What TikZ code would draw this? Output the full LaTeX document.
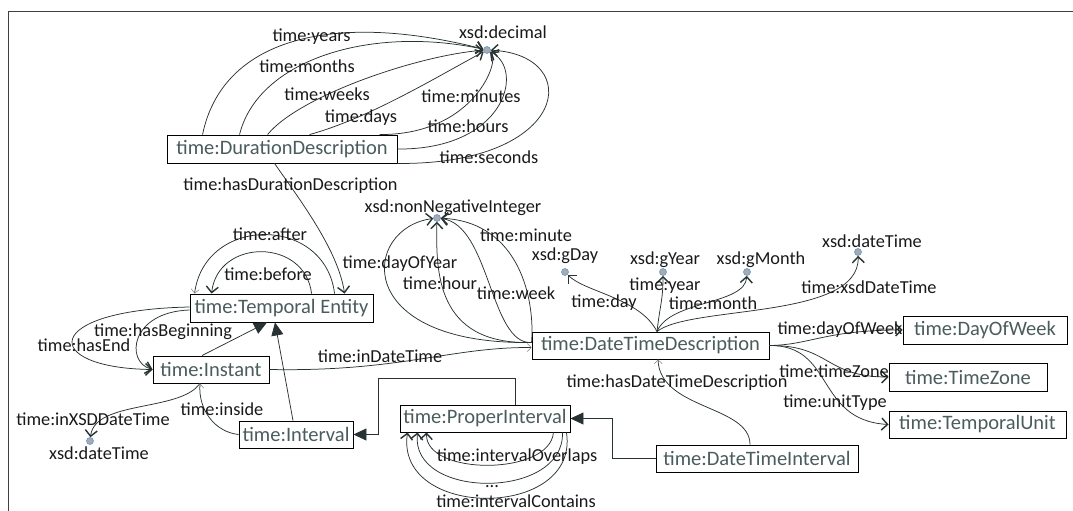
\documentclass[tikz,border=0pt]{standalone}
\usepackage{fontspec}
\setmainfont{Carlito}
\usetikzlibrary{arrows.meta,shadows,calc}
\definecolor{ntext}{RGB}{75,92,92}
\definecolor{edgec}{RGB}{40,50,50}
\definecolor{dotblue}{RGB}{91,155,213}
\definecolor{dotfill}{RGB}{170,170,170}
\begin{document}
\begin{tikzpicture}[x=1pt,y=-1pt,
 cls/.style={draw=black,line width=0.9pt,fill=white,inner sep=0pt,text=ntext,font=\fontsize{20.5}{22}\selectfont,drop shadow={shadow xshift=1.2pt,shadow yshift=-1.2pt,opacity=0.3}},
 dt/.style={circle,draw=dotblue,fill=dotfill,line width=0.6pt,minimum size=7pt,inner sep=0pt},
 lbl/.style={font=\fontsize{18.3}{20}\selectfont,text=black!90,inner sep=0pt,anchor=base},
 rel/.style={draw=edgec,line width=0.75pt,-{Straight Barb[length=6pt,width=12pt,line width=1.4pt]}},
 lrel/.style={draw=edgec,line width=0.75pt,-{Straight Barb[length=4pt,width=8pt,line width=0.5pt,color=gray]}},
 sub/.style={draw=edgec,line width=0.75pt,-{Triangle[length=13pt,width=12pt]}}
]
\useasboundingbox (0,0) rectangle (1073,511);
\draw[line width=1pt,black!75] (1073,12) -- (8,12) -- (8,511);

% class nodes
\node[cls,minimum width=230pt,minimum height=28pt] (dur) at (282,149) {time:DurationDescription};
\node[cls,minimum width=183pt,minimum height=28pt] (te) at (281.5,308) {time:Temporal Entity};
\node[cls,minimum width=116pt,minimum height=27pt] (ins) at (211,369.5) {time:Instant};
\node[cls,minimum width=114pt,minimum height=27pt] (ivl) at (296,434.5) {time:Interval};
\node[cls,minimum width=170pt,minimum height=27pt] (pi) at (485,418.5) {time:ProperInterval};
\node[cls,minimum width=202pt,minimum height=27pt] (dti) at (757,458.5) {time:DateTimeInterval};
\node[cls,minimum width=237pt,minimum height=27pt] (dtd) at (650.5,345.5) {time:DateTimeDescription};
\node[cls,minimum width=164pt,minimum height=28pt] (dow) at (985,330) {time:DayOfWeek};
\node[cls,minimum width=158pt,minimum height=28pt] (tz) at (968,377) {time:TimeZone};
\node[cls,minimum width=177pt,minimum height=27pt] (tu) at (977.5,424.5) {time:TemporalUnit};

% datatype nodes
\node[dt] (dec) at (487,50) {};
\node[dt] (nni) at (437,218) {};
\node[dt] (gday) at (565,272) {};
\node[dt] (gyear) at (663,272) {};
\node[dt] (gmonth) at (747,272) {};
\node[dt] (dtr) at (858,252) {};
\node[dt] (dtl) at (90,441) {};

% datatype labels
\node[lbl] (ldec) at (503,38) {xsd:decimal};
\node[lbl] (lnni) at (453,212) {xsd:nonNegativeInteger};
\node[lbl] (lgday) at (565,260) {xsd:gDay};
\node[lbl] (lgyear) at (665,264) {xsd:gYear};
\node[lbl] (lgmonth) at (761,264) {xsd:gMonth};
\node[lbl] (ldtr) at (872,247) {xsd:dateTime};
\node[lbl] (ldtl) at (99,459) {xsd:dateTime};

% duration -> decimal
\draw[rel] ($(dur.north west)+(36,0)$) .. controls (222,40) and (330,10) .. (dec);
\draw[rel] ($(dur.north west)+(73,0)$) .. controls (258,60) and (370,25) .. (dec);
\draw[rel] ($(dur.north west)+(101,0)$) .. controls (300,95) and (420,55) .. (dec);
\draw[rel] ($(dur.north west)+(143,0)$) .. controls (370,118) and (440,75) .. (dec);
\draw[rel] ($(dur.north west)+(213,0)$) .. controls (475,135) and (500,60) .. (dec);
\draw[rel] (dur.east) .. controls (505,150) and (525,70) .. (dec);
\draw[rel] (dur.south east) .. controls (570,165) and (585,55) .. (dec);

\node[lbl] at (311.5,42) {time:years};
\node[lbl] at (307,73) {time:months};
\node[lbl] at (327,100) {time:weeks};
\node[lbl] at (361,122) {time:days};
\node[lbl] at (471,102) {time:minutes};
\node[lbl] at (468,132) {time:hours};
\node[lbl] at (489,163) {time:seconds};

% hasDurationDescription
\draw[rel] ($(dur.south west)+(108,0)$) .. controls (300,200) and (338,250) .. ($(te.north west)+(155,0)$);
\node[lbl] at (290.5,190) {time:hasDurationDescription};

% after / before
\draw[lrel] ($(te.north west)+(145,0)$) .. controls (325,215) and (205,215) .. ($(te.north west)+(5,0)$);
\draw[rel] ($(te.north west)+(122,0)$) .. controls (305,238) and (218,238) .. ($(te.north west)+(22,0)$);
\node[lbl] at (270,240) {time:after};
\node[lbl] at (268,280) {time:before};

% hasBeginning / hasEnd
\draw[rel] ($(te.west)+(0,-1)$) .. controls (40,310) and (40,368) .. (ins.west);
\draw[rel] ($(te.west)+(0,2)$) .. controls (130,312) and (125,362) .. (ins.west);
\node[lbl] at (163,336) {time:hasBeginning};
\node[lbl] at (84,351) {time:hasEnd};

% subclass
\draw[sub] ($(ins.north)+(-9,0)$) -- ($(te.south)+(-14.5,0)$);
\draw[sub] ($(ivl.north)+(-3,0)$) -- ($(te.south)+(-6.5,0)$);
\draw[sub] ($(pi.north west)+(116,0)$) -- ++(0,-26) -| ($(ivl.east)+(25,0)$) -- (ivl.east);
\draw[sub] (dti.west) -- ++(-43,0) |- (pi.east);

% inDateTime
\draw[lrel] (ins.east) .. controls (400,372) and (450,347) .. ($(dtd.west)+(0,2)$);
\node[lbl] at (380,362) {time:inDateTime};

% inXSDDateTime / inside
\draw[rel] ($(ins.south)+(-11,0)$) .. controls (180,412) and (95,400) .. (dtl);
\node[lbl] at (93,425) {time:inXSDDateTime};
\draw[lrel] (ivl.west) .. controls (215,432) and (198,410) .. ($(ins.south)+(-11,0)$);
\node[lbl] at (222,415) {time:inside};

% ProperInterval loops
\draw[rel] ($(pi.south east)+(-17,0)$) .. controls (550,476) and (425,476) .. ($(pi.south west)+(27,0)$);
\draw[rel] ($(pi.south east)+(-8,0)$) .. controls (565,500) and (410,500) .. ($(pi.south west)+(18,0)$);
\draw[rel] ($(pi.south east)+(-4,0)$) .. controls (580,520) and (395,520) .. ($(pi.south west)+(8,0)$);
\node[lbl] at (517,461) {time:intervalOverlaps};
\node[lbl] at (492,487) {...};
\node[lbl] at (516,507) {time:intervalContains};

% DTD -> nonNegativeInteger
\draw[rel] ($(dtd.west)+(0,-3)$) .. controls (350,345) and (362,228) .. (nni);
\draw[rel] ($(dtd.west)+(0,-3)$) .. controls (435,345) and (436,270) .. (nni);
\draw[rel] ($(dtd.west)+(0,-3)$) .. controls (490,345) and (490,225) .. (nni);
\draw[rel] ($(dtd.west)+(0,-3)$) .. controls (535,300) and (520,222) .. (nni);
\node[lbl] at (400,268) {time:dayOfYear};
\node[lbl] at (440,289) {time:hour};
\node[lbl] at (516,299) {time:week};
\node[lbl] at (526,241) {time:minute};

% DTD -> g* / dateTime
\draw[rel] ($(dtd.north)+(6.5,0)$) .. controls (640,298) and (585,292) .. (gday);
\draw[rel] ($(dtd.north)+(6.5,0)$) .. controls (660,305) and (663,300) .. (gyear);
\draw[rel] ($(dtd.north)+(6.5,0)$) .. controls (670,300) and (745,305) .. (gmonth);
\draw[rel] ($(dtd.north)+(6.5,0)$) .. controls (690,305) and (860,320) .. (dtr);
\node[lbl] at (604,307) {time:day};
\node[lbl] at (665,290) {time:year};
\node[lbl] at (713,309) {time:month};
\node[lbl] at (869,293) {time:xsdDateTime};

% DTD -> right classes
\draw[rel] (dtd.east) .. controls (810,345) and (825,330) .. (dow.west);
\draw[rel] (dtd.east) .. controls (830,345) and (825,377) .. (tz.west);
\draw[rel] (dtd.east) .. controls (835,345) and (815,420) .. (tu.west);
\node[lbl] at (840,334) {time:dayOfWeek};
\node[lbl] at (834,377) {time:timeZone};
\node[lbl] at (835,407) {time:unitType};

% hasDateTimeDescription
\draw[lrel] ($(dti.north)+(-7,0)$) .. controls (750,405) and (660,410) .. ($(dtd.south)+(7.5,0)$);
\node[lbl] at (677,387) {time:hasDateTimeDescription};
\end{tikzpicture}
\end{document}
